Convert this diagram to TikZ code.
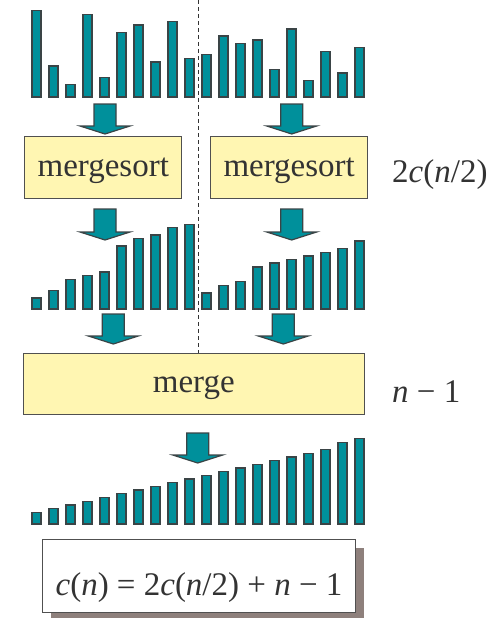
\documentclass[tikz,border=0pt]{standalone}
\usepackage{fontspec}
\setmainfont{Liberation Serif}
\usetikzlibrary{shadows}

\definecolor{barteal}{HTML}{00909B}
\definecolor{barline}{HTML}{3A4446}
\definecolor{boxfill}{HTML}{FFF6B2}
\definecolor{boxline}{HTML}{505050}
\definecolor{inkgray}{HTML}{333333}
\definecolor{shadowgray}{HTML}{8E807C}

\tikzset{
  bar/.style={fill=barteal, draw=barline, line width=1.2pt},
  blockarrow/.style={fill=barteal, draw=barline, line width=1.2pt, line join=miter},
  procbox/.style={draw=boxline, fill=boxfill, line width=1pt, inner sep=0pt,
    text height=22pt, text depth=4pt, text=inkgray, font=\fontsize{33}{36}\selectfont},
  costlabel/.style={text=inkgray, font=\fontsize{33}{36}\selectfont, anchor=base west, inner sep=0pt},
  divider/.style={draw=inkgray, line width=1pt, dash pattern=on 4pt off 3pt},
}

\newcommand{\sortarrow}[3]{%
  \draw[blockarrow] (#1-11,#2) -- (#1+11,#2) -- (#1+11,#3-8) -- (#1+25,#3-8)
    -- (#1,#3) -- (#1-25,#3-8) -- (#1-11,#3-8) -- cycle;}

\begin{document}
\begin{tikzpicture}[x=1pt, y=-1pt]
  \useasboundingbox (0,0) rectangle (498,618);

  \node[procbox, minimum width=157, minimum height=62] (lsort) at (103.3,167.5) {mergesort};
  \node[procbox, minimum width=157, minimum height=62] (rsort) at (289.2,167.5) {mergesort};
  \node[procbox, minimum width=341, minimum height=61] (merge) at (193.8,383.7) {merge};

  \coordinate (divtop) at (198,0);
  \draw[divider] (divtop) -- (divtop |- merge.north);

  \foreach \h [count=\i from 0] in {86.3,31,12.7,82.7,19.7,64.3,72,35,75.3,38.7,
      42.3,61,53.7,57,27.3,68,16.7,45.7,24,49.3}
    \draw[bar] ({32+17*\i},97) rectangle ++(9,-\h);

  \foreach \h [count=\i from 0] in {11,18.7,29.3,33.3,37,63,70.3,74,81.3,84.7,
      16,23.3,27.3,42,46,49.3,53,56.7,60.7,68}
    \draw[bar] ({32+17*\i},309) rectangle ++(9,-\h);

  \foreach \h [count=\i from 0] in {11.7,15.3,19,22.7,26.7,30.3,34,37.7,41.3,45,
      48.7,52.3,56,59.7,63.3,67,70.7,74.3,81.7,85.3}
    \draw[bar] ({32+17*\i},524) rectangle ++(9,-\h);

  \sortarrow{105}{104}{134}
  \sortarrow{291.7}{104}{134}
  \sortarrow{105}{209}{240}
  \sortarrow{291.7}{209}{240}
  \sortarrow{113.3}{314}{344}
  \sortarrow{283.3}{314}{344}
  \sortarrow{197.7}{433}{463}

  \node[costlabel] (sortcost) at (392,182) {2\textit{c}(\textit{n}/2)};
  \node[costlabel] (mergecost) at (392,402) {\textit{n} − 1};

  \node[procbox, fill=white, minimum width=313, minimum height=73,
    text height=38pt, text depth=0pt,
    drop shadow={shadow xshift=8.5pt, shadow yshift=-8.5pt, fill=shadowgray, opacity=1}]
    (recur) at (199,576) {\textit{c}(\textit{n}) = 2\textit{c}(\textit{n}/2) + \textit{n} − 1};
\end{tikzpicture}
\end{document}
